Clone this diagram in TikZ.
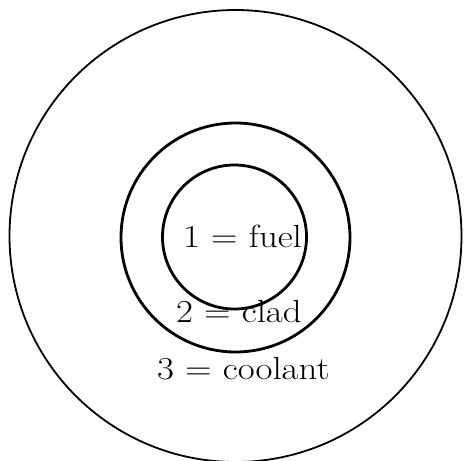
\documentclass[tikz,border=0pt]{standalone}
\usepackage{fontspec}
\begin{document}
\begin{tikzpicture}[x=1pt,y=-1pt,
  ring/.style={draw=black},
  lbl/.style={inner sep=0pt,anchor=base west,font=\fontsize{32}{36}\selectfont,xscale=1.15}]
\useasboundingbox (0,0) rectangle (464,461);
\node[ring,circle,minimum size=452pt,line width=1.8pt,inner sep=0pt] (outer) at (235.5,236) {};
\node[ring,circle,minimum size=229pt,line width=2.8pt,inner sep=0pt] (mid) at (235.5,237.5) {};
\node[ring,circle,minimum size=144pt,line width=2.8pt,inner sep=0pt] (inner) at (234.5,237) {};
\node[lbl] (fuel) at (183,247) {1 = fuel};
\node[lbl] (clad) at (176,322) {2 = clad};
\node[lbl] (cool) at (157,379) {3 = coolant};
\end{tikzpicture}
\end{document}
